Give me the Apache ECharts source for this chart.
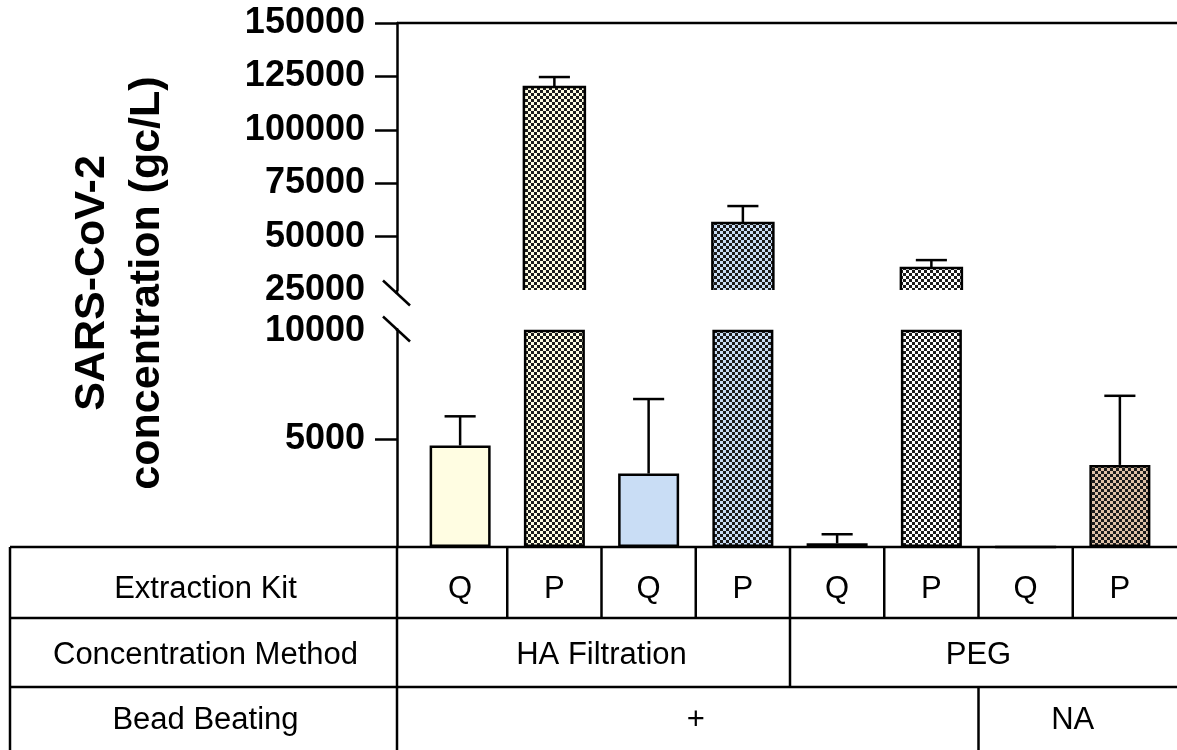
<!DOCTYPE html>
<html><head><meta charset="utf-8">
<script src="https://cdn.jsdelivr.net/npm/echarts@6/dist/echarts.min.js"></script>
<style>html,body{margin:0;padding:0;background:#fff}#c{width:1177px;height:750px}</style>
</head><body><div id="c"></div>
<script>
// ---- data ----
const categories = ['Q | HA Filtration | +', 'P | HA Filtration | +', 'Q | HA Filtration | + (2)', 'P | HA Filtration | + (2)',
                    'Q | PEG | +', 'P | PEG | +', 'Q | PEG | NA', 'P | PEG | NA'];
const concentration = [4700, 120000, 3400, 56400, 170, 35300, 0, 3800];
const errorUpper    = [1350, 4700, 3450, 7900, 420, 3700, 0, 3200];
const extractionKit = ['Q', 'P', 'Q', 'P', 'Q', 'P', 'Q', 'P'];
const concentrationMethod = ['HA Filtration', 'HA Filtration', 'HA Filtration', 'HA Filtration', 'PEG', 'PEG', 'PEG', 'PEG'];
const beadBeating = ['+', '+', '+', '+', '+', '+', 'NA', 'NA'];
const rowLabels = ['Extraction Kit', 'Concentration Method', 'Bead Beating'];
const upperRange = [25000, 150000];   // upper segment of broken axis
const lowerRange = [0, 10000];        // lower segment of broken axis
const upperTicks = [50000, 75000, 100000, 125000, 150000];
const lowerTicks = [5000];
const lowerLabels = [5000, 10000];
const titleLines = ['SARS-CoV-2', 'concentration (gc/L)'];

// ---- styles ----
const fillColors = ['#FFFDE2', '#FFFDE2', '#C9DDF5', '#C9DDF5', '#1c1c1c', '#FFFFFF', '#FFFFFF', '#DFC2A8'];
const checkered  = [false, true, false, true, false, true, false, true];
const FONT = '"Liberation Sans", Arial, Helvetica, sans-serif';
const W = 1177, H = 750;
const GRID_LEFT = 413, GRID_W = 754, AXIS_OFFSET = 16;
const BAR_W = 61;
const LW = 2.5;

function checker(light) {
  const c = document.createElement('canvas');
  c.width = 6; c.height = 6;
  const g = c.getContext('2d');
  g.fillStyle = light; g.fillRect(0, 0, 6, 6);
  g.fillStyle = '#1c1c1c';
  g.fillRect(0, 0, 3, 3); g.fillRect(3, 3, 3, 3);
  return c;
}
const fills = fillColors.map((c, i) => checkered[i] ? { image: checker(c), repeat: 'repeat' } : c);
function itemStyleFor(i) {
  return { color: fills[i], borderColor: '#000', borderWidth: LW };
}
function errRender(params, api) {
  const x = api.value(0), v = api.value(1), e = api.value(2);
  const b = api.coord([x, v]), t = api.coord([x, v + e]);
  const half = api.size([1, 0])[0] * 0.165;
  const st = { stroke: '#000', lineWidth: LW };
  return { type: 'group', children: [
    { type: 'line', shape: { x1: b[0], y1: b[1], x2: t[0], y2: t[1] }, style: st },
    { type: 'line', shape: { x1: t[0] - half, y1: t[1], x2: t[0] + half, y2: t[1] }, style: st }
  ]};
}
// upper segment bars: open at the break (no bottom border)
function upperBarRender(params, api) {
  const i = api.value(0), v = api.value(1);
  const t = api.coord([i, v]), b = api.coord([i, upperRange[0]]);
  const l = t[0] - BAR_W / 2, r = t[0] + BAR_W / 2;
  return { type: 'group', children: [
    { type: 'rect', shape: { x: l, y: t[1], width: BAR_W, height: b[1] - t[1] }, style: { fill: fills[i] } },
    { type: 'polyline', shape: { points: [[l, b[1]], [l, t[1]], [r, t[1]], [r, b[1]]] },
      style: { stroke: '#000', lineWidth: LW, fill: null } }
  ]};
}

const axisCommon = {
  type: 'value', offset: AXIS_OFFSET,
  axisLine: { show: true, lineStyle: { color: '#000', width: LW } },
  splitLine: { show: false },
  axisLabel: { color: '#000', fontSize: 36, fontWeight: 'bold', fontFamily: FONT, margin: 32, formatter: v => String(v) }
};

const option = {
  animation: false,
  backgroundColor: '#fff',
  grid: [
    { left: GRID_LEFT, top: 23, width: GRID_W, height: 267 },
    { left: GRID_LEFT, top: 331, width: GRID_W, height: 216 }
  ],
  xAxis: [
    { type: 'category', gridIndex: 0, data: categories, show: false },
    { type: 'category', gridIndex: 1, data: categories, show: false }
  ],
  yAxis: [
    Object.assign({}, axisCommon, { gridIndex: 0, min: upperRange[0], max: upperRange[1], interval: 25000,
      axisTick: { show: true, length: 22, lineStyle: { color: '#000', width: LW }, customValues: upperTicks } }),
    Object.assign({}, axisCommon, { gridIndex: 1, min: lowerRange[0], max: lowerRange[1], interval: 5000,
      axisTick: { show: true, length: 22, lineStyle: { color: '#000', width: LW }, customValues: lowerTicks },
      axisLabel: Object.assign({}, axisCommon.axisLabel, { customValues: lowerLabels }) })
  ],
  series: [
    { type: 'custom', xAxisIndex: 0, yAxisIndex: 0, renderItem: upperBarRender, encode: { x: 0, y: 1 }, clip: true,
      data: concentration.map((v, i) => [i, v]).filter(d => d[1] >= upperRange[0]) },
    { type: 'bar', xAxisIndex: 1, yAxisIndex: 1, barWidth: BAR_W, clip: true,
      data: concentration.map((v, i) => ({ value: v, itemStyle: itemStyleFor(i) })) },
    { type: 'custom', xAxisIndex: 0, yAxisIndex: 0, renderItem: errRender, z: 5, encode: { x: 0, y: 1 },
      data: concentration.map((v, i) => [i, v, errorUpper[i]]).filter(d => d[1] >= upperRange[0] && d[2] > 0) },
    { type: 'custom', xAxisIndex: 1, yAxisIndex: 1, renderItem: errRender, z: 5, encode: { x: 0, y: 1 },
      data: concentration.map((v, i) => [i, v, errorUpper[i]]).filter(d => d[1] < lowerRange[1] && d[2] > 0) }
  ]
};

const chart = echarts.init(document.getElementById('c'), null, { renderer: 'canvas', width: W, height: H });
chart.setOption(option);

// ---- table + decorations, positioned from the axes ----
const xc = categories.map(c => chart.convertToPixel({ xAxisIndex: 1 }, c));
const band = xc[1] - xc[0];
const axisX = GRID_LEFT - AXIS_OFFSET;
const yBase = chart.convertToPixel({ yAxisIndex: 1 }, lowerRange[0]);
const yTop = chart.convertToPixel({ yAxisIndex: 0 }, upperRange[1]);
const yUpperBot = chart.convertToPixel({ yAxisIndex: 0 }, upperRange[0]);
const yLowerTop = chart.convertToPixel({ yAxisIndex: 1 }, lowerRange[1]);
const rowY = [yBase, yBase + 71, yBase + 140, H];
const textY = [yBase + 42, yBase + 108, yBase + 173];
const TABLE_LEFT = 10;

const st = { stroke: '#000', lineWidth: LW };
const g = [];
const line = (x1, y1, x2, y2) => g.push({ type: 'line', shape: { x1, y1, x2, y2 }, style: st, z: 10 });
const text = (t, x, y, size, weight) => g.push({ type: 'text', x, y, z: 10, style: {
  text: t, fill: '#000', font: (weight || 'normal') + ' ' + size + 'px ' + FONT,
  align: 'center', verticalAlign: 'middle', textAlign: 'center', textVerticalAlign: 'middle' } });

// top frame line and baseline
line(axisX, yTop, W, yTop);
line(TABLE_LEFT, yBase, W, yBase);
line(TABLE_LEFT, rowY[1], W, rowY[1]);
line(TABLE_LEFT, rowY[2], W, rowY[2]);
line(TABLE_LEFT, yBase, TABLE_LEFT, H);
line(axisX, yBase, axisX, H);
// axis break: extend axis lines to the slashes, then the slashes
line(axisX, yUpperBot, axisX, yUpperBot + 4);
line(axisX, yLowerTop - 3, axisX, yLowerTop);
[yUpperBot + 3, yLowerTop - 2].forEach(cy => line(axisX - 14, cy - 12.5, axisX + 13, cy + 12.5));

// row labels
rowLabels.forEach((t, r) => text(t, (TABLE_LEFT + axisX) / 2 + 2, textY[r], 31));

// grouped rows
const rows = [extractionKit, concentrationMethod, beadBeating];
rows.forEach((arr, r) => {
  let start = 0;
  for (let i = 1; i <= arr.length; i++) {
    if (i === arr.length || arr[i] !== arr[start] || r === 0) {
      const cx = (xc[start] + xc[i - 1]) / 2;
      text(arr[start], cx, textY[r], 31);
      if (i < arr.length) {
        const bx = xc[i - 1] + band / 2;
        line(bx, rowY[r], bx, rowY[r + 1]);
      }
      start = i;
    }
  }
});

// y-axis title (rotated)
g.push({ type: 'text', x: 120, y: 283, rotation: Math.PI / 2, z: 10, style: {
  text: titleLines.join('\n'), fill: '#000', font: 'bold 43px ' + FONT, lineHeight: 55,
  align: 'center', verticalAlign: 'middle', textAlign: 'center', textVerticalAlign: 'middle' } });

chart.setOption({ graphic: { elements: g } });
</script>
</body></html>
